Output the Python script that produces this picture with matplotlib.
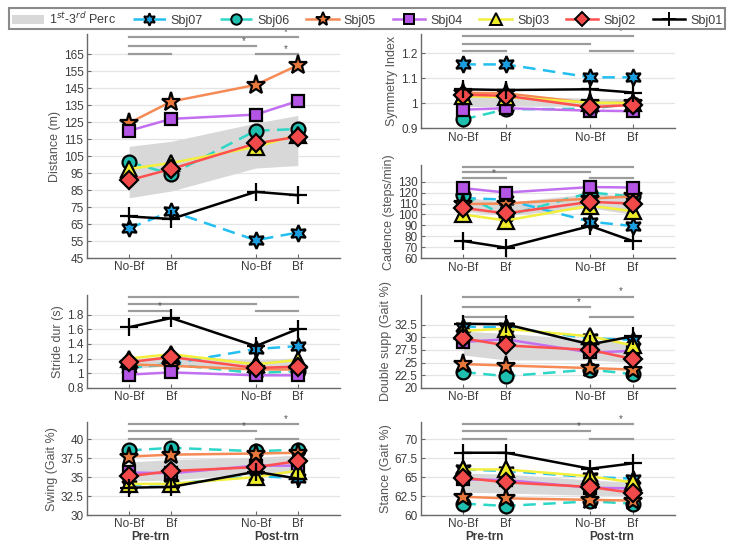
import matplotlib.pyplot as plt
from matplotlib.lines import Line2D
from matplotlib.patches import Patch

plt.rcParams['font.family'] = ['Liberation Sans', 'DejaVu Sans']

subjects = ["Sbj07", "Sbj06", "Sbj05", "Sbj04", "Sbj03", "Sbj02", "Sbj01"]
conditions = ["No-Bf", "Bf", "No-Bf", "Bf"]
phases = ["Pre-trn", "Post-trn"]

# rows follow `subjects`, columns follow `conditions`
distance = [
    [62.5, 72.5, 55.5, 60.0],
    [101.5, 94.5, 120.0, 121.0],
    [124.6, 137.2, 147.0, 158.6],
    [120.0, 127.0, 129.5, 137.5],
    [97.5, 101.0, 110.5, 117.5],
    [90.8, 97.5, 112.5, 116.5],
    [69.5, 68.0, 84.0, 82.0],
]
distance_band = ([80.5, 84.5, 98.0, 99.5], [110.8, 113.8, 124.5, 129.0])

symmetry = [
    [1.156, 1.156, 1.104, 1.104],
    [0.935, 0.975, 0.978, 0.998],
    [1.042, 1.040, 1.000, 1.002],
    [0.974, 0.980, 0.970, 0.968],
    [1.028, 1.025, 1.002, 1.000],
    [1.034, 1.030, 0.984, 0.993],
    [1.056, 1.053, 1.056, 1.043],
]
symmetry_band = ([0.986, 0.988, 0.988, 0.990], [1.030, 1.030, 1.020, 1.018])

cadence = [
    [115.0, 113.5, 93.4, 89.5],
    [118.0, 98.7, 120.0, 116.5],
    [109.5, 110.0, 114.5, 116.5],
    [124.0, 120.0, 125.0, 124.6],
    [100.0, 94.5, 108.0, 103.0],
    [106.0, 101.0, 111.5, 110.0],
    [75.8, 69.8, 89.5, 75.8],
]
cadence_band = ([103.0, 99.0, 106.0, 100.0], [116.0, 111.0, 119.0, 117.0])

stride = [
    [1.07, 1.13, 1.33, 1.37],
    [1.08, 1.12, 1.00, 1.03],
    [1.12, 1.10, 1.05, 1.05],
    [0.98, 1.01, 0.97, 0.97],
    [1.20, 1.26, 1.12, 1.18],
    [1.15, 1.22, 1.07, 1.09],
    [1.63, 1.755, 1.37, 1.605],
]
stride_band = ([1.06, 1.10, 1.05, 1.05], [1.19, 1.24, 1.18, 1.21])

double_supp = [
    [32.1, 32.0, 29.8, 29.5],
    [23.1, 22.3, 23.6, 22.7],
    [24.7, 24.4, 23.9, 23.6],
    [29.1, 29.6, 27.0, 27.3],
    [31.3, 31.7, 30.2, 28.4],
    [29.8, 28.4, 27.5, 25.7],
    [32.7, 32.6, 28.6, 30.2],
]
double_supp_band = ([26.5, 25.5, 25.5, 25.0], [31.2, 30.8, 29.5, 29.0])

swing = [
    [34.0, 34.1, 35.1, 34.9],
    [38.5, 38.85, 38.4, 38.6],
    [37.7, 37.95, 38.1, 38.2],
    [35.6, 35.5, 36.5, 36.5],
    [34.1, 34.1, 35.0, 35.85],
    [35.1, 35.8, 36.3, 37.1],
    [33.6, 33.7, 35.7, 34.8],
]
swing_band = ([34.5, 34.6, 35.5, 35.5], [37.0, 37.3, 37.6, 37.9])

stance = [
    [66.0, 65.8, 65.0, 64.8],
    [61.5, 61.2, 61.8, 61.5],
    [62.4, 62.2, 62.0, 61.9],
    [64.7, 64.6, 63.6, 63.5],
    [66.0, 66.0, 65.1, 64.3],
    [64.9, 64.3, 63.7, 62.9],
    [68.2, 68.2, 66.1, 66.8],
]
stance_band = ([63.0, 62.9, 62.6, 62.5], [65.5, 65.4, 64.6, 64.3])

styles = {
    "Sbj07": dict(color="#22bff0", ls=(0, (5, 3)), marker=(6, 1, 0), mfc="#1a9ee0", ms=12),
    "Sbj06": dict(color="#2dd6c6", ls=(0, (5, 3)), marker="o", mfc="#1fbfb0", ms=10),
    "Sbj05": dict(color="#f58a55", ls="-", marker="*", mfc="#e8783c", ms=14),
    "Sbj04": dict(color="#c26ff0", ls="-", marker="s", mfc="#b455e6", ms=9),
    "Sbj03": dict(color="#f2f03c", ls="-", marker="^", mfc="#efec2a", ms=11),
    "Sbj02": dict(color="#ff5050", ls="-", marker="D", mfc="#f24a4a", ms=9),
    "Sbj01": dict(color="black", ls="-", marker="+", mfc="black", ms=13),
}

xpos = [1, 2, 4, 5]
GRAY = "#9c9c9c"
TXT = "#3c3c3c"

fig = plt.figure(figsize=(7.34, 5.45), dpi=100)

# rect, ylabel, data, band, yticks, ylim, sig levels (low, mid, top), stars on (top, mid, 1-2, 4-5)
panels = [
    ([0.1185, 0.5266, 0.3447, 0.411], "Distance (m)", distance, distance_band,
     list(range(45, 166, 10)), (45, 177), (165, 170, 175), (True, True, False, True)),
    ([0.5736, 0.765, 0.346, 0.1725], "Symmetry Index", symmetry, symmetry_band,
     [0.9, 1.0, 1.1, 1.2], (0.9, 1.278), (1.21, 1.24, 1.27), (True, False, False, False)),
    ([0.5736, 0.526, 0.346, 0.171], "Cadence (steps/min)", cadence, cadence_band,
     list(range(60, 131, 10)), (60, 145), (133.6, 138.5, 143.4), (False, False, True, False)),
    ([0.1185, 0.2886, 0.3447, 0.170], "Stride dur (s)", stride, stride_band,
     [0.8, 1.0, 1.2, 1.4, 1.6, 1.8], (0.8, 2.07), (1.855, 1.95, 2.05), (False, False, True, False)),
    ([0.5736, 0.2886, 0.346, 0.171], "Double supp (Gait %)", double_supp, double_supp_band,
     [20, 22.5, 25, 27.5, 30, 32.5], (20, 38.5), (34.1, 36.1, 38.1), (True, True, False, False)),
    ([0.1185, 0.055, 0.3447, 0.170], "Swing (Gait %)", swing, swing_band,
     [30, 32.5, 35, 37.5, 40], (30, 42.2), (40, 41, 42), (True, True, False, False)),
    ([0.5736, 0.055, 0.346, 0.170], "Stance (Gait %)", stance, stance_band,
     [60, 62.5, 65, 67.5, 70], (60, 72.2), (70, 71, 72), (True, True, False, False)),
]

for rect, ylabel, data, band, yticks, ylim, sig, stars in panels:
    ax = fig.add_axes(rect)
    ax.fill_between(xpos, band[0], band[1], color="#d8d8d8", lw=0, zorder=1)
    for name, vals in zip(subjects, data):
        st = styles[name]
        ax.plot(xpos, vals, color=st["color"], ls=st["ls"], lw=1.8,
                marker=st["marker"], ms=st["ms"], mfc=st["mfc"], mec="black",
                mew=1.6, zorder=3)
    ax.set_xlim(0, 6)
    ax.set_ylim(*ylim)
    ax.set_xticks(xpos)
    ax.set_xticklabels(conditions)
    ax.set_yticks(yticks)
    ax.set_yticklabels([f"{t:g}" for t in yticks])
    ax.yaxis.grid(True, color="#e4e4e4", lw=0.9, zorder=0)
    ax.set_axisbelow(True)
    for s in ("top", "right"):
        ax.spines[s].set_visible(False)
    for s in ("left", "bottom"):
        ax.spines[s].set_color("#6a6a6a")
        ax.spines[s].set_linewidth(1.0)
    ax.tick_params(direction="in", length=3, colors="#6a6a6a", labelcolor=TXT,
                   labelsize=8.5, pad=2.5)
    ax.set_ylabel(ylabel, color="#555555", fontsize=9, labelpad=2)

    low, mid, top = sig
    segs = [((1, 5), top, stars[0]), ((1, 4), mid, stars[1]),
            ((1, 2), low, stars[2]), ((4, 5), low, stars[3])]
    for (x0, x1), y, star in segs:
        ax.plot([x0, x1], [y, y], color=GRAY, lw=1.6, clip_on=False, zorder=2)
        if star:
            ax.text(x1 - 0.28, y, "*", color="#555555", fontsize=7,
                    ha="center", va="bottom", clip_on=False)

    if ylabel.startswith(("Swing", "Stance")):
        for i, ph in enumerate(phases):
            ax.text((xpos[2 * i] + xpos[2 * i + 1]) / 2, -0.175, ph,
                    transform=ax.get_xaxis_transform(), ha="center", va="top",
                    fontsize=8.5, fontweight="bold", color=TXT)

handles = [Patch(facecolor="#d8d8d8", edgecolor="none", label="1$^{st}$-3$^{rd}$ Perc")]
for name in subjects:
    st = styles[name]
    handles.append(Line2D([], [], color=st["color"], ls=st["ls"], lw=1.8,
                          marker=st["marker"], ms=st["ms"] * 0.75, mfc=st["mfc"],
                          mec="black", mew=1.4, label=name))
leg = fig.legend(handles=handles, loc="upper left", ncol=8, mode="expand",
                 bbox_to_anchor=(0.004, 0.0, 0.992, 0.996), fontsize=9,
                 handlelength=2.6, handletextpad=0.4, borderpad=0.2,
                 columnspacing=0.8, fancybox=False, framealpha=1)
leg.get_frame().set_edgecolor("#8a8a8a")
leg.get_frame().set_linewidth(1.5)
for t in leg.get_texts():
    t.set_color(TXT)

fig.savefig("out.png", dpi=100)
